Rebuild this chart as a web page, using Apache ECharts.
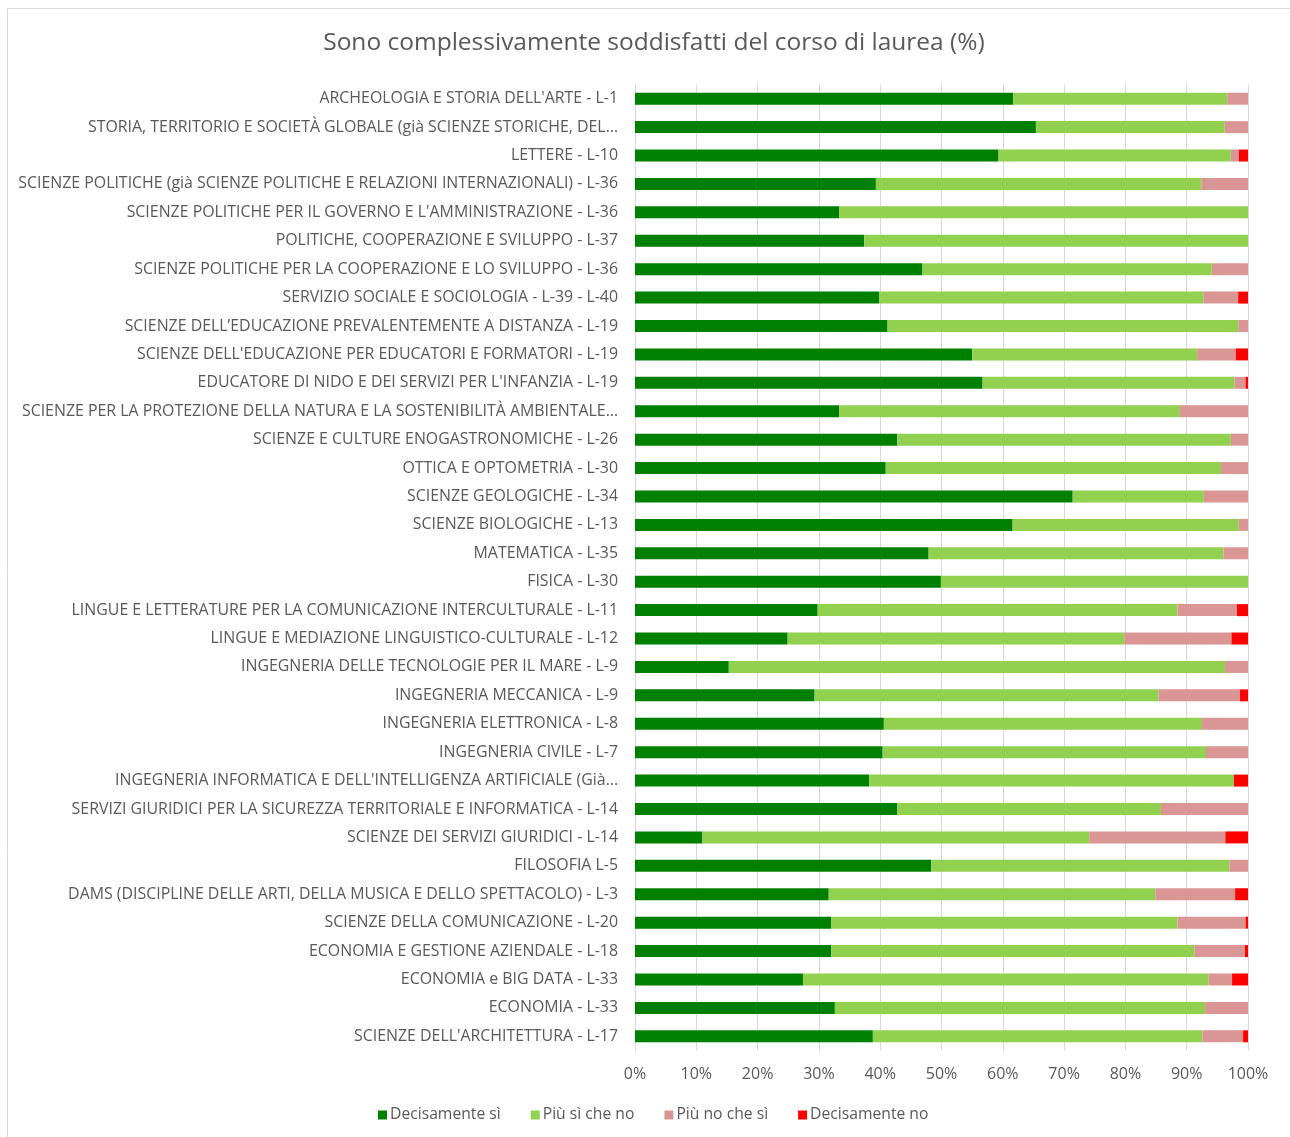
<!DOCTYPE html>
<html><head><meta charset="utf-8">
<script src="https://cdn.jsdelivr.net/npm/echarts@6/dist/echarts.min.js"></script>
<style>html,body{margin:0;padding:0;background:#fff}#c{width:1290px;height:1137px}</style>
</head><body><div id="c"></div>
<script>
const categories = [
"ARCHEOLOGIA E STORIA DELL'ARTE - L-1",
"STORIA, TERRITORIO E SOCIETÀ GLOBALE (già SCIENZE STORICHE, DEL…",
"LETTERE - L-10",
"SCIENZE POLITICHE (già SCIENZE POLITICHE E RELAZIONI INTERNAZIONALI) - L-36",
"SCIENZE POLITICHE PER IL GOVERNO E L'AMMINISTRAZIONE - L-36",
"POLITICHE, COOPERAZIONE E SVILUPPO - L-37",
"SCIENZE POLITICHE PER LA COOPERAZIONE E LO SVILUPPO - L-36",
"SERVIZIO SOCIALE E SOCIOLOGIA - L-39 - L-40",
"SCIENZE DELL’EDUCAZIONE PREVALENTEMENTE A DISTANZA - L-19",
"SCIENZE DELL'EDUCAZIONE PER EDUCATORI E FORMATORI - L-19",
"EDUCATORE DI NIDO E DEI SERVIZI PER L'INFANZIA - L-19",
"SCIENZE PER LA PROTEZIONE DELLA NATURA E LA SOSTENIBILITÀ AMBIENTALE…",
"SCIENZE E CULTURE ENOGASTRONOMICHE - L-26",
"OTTICA E OPTOMETRIA - L-30",
"SCIENZE GEOLOGICHE - L-34",
"SCIENZE BIOLOGICHE - L-13",
"MATEMATICA - L-35",
"FISICA - L-30",
"LINGUE E LETTERATURE PER LA COMUNICAZIONE INTERCULTURALE - L-11",
"LINGUE E MEDIAZIONE LINGUISTICO-CULTURALE - L-12",
"INGEGNERIA DELLE TECNOLOGIE PER IL MARE - L-9",
"INGEGNERIA MECCANICA - L-9",
"INGEGNERIA ELETTRONICA - L-8",
"INGEGNERIA CIVILE - L-7",
"INGEGNERIA INFORMATICA E DELL'INTELLIGENZA ARTIFICIALE (Già…",
"SERVIZI GIURIDICI PER LA SICUREZZA TERRITORIALE E INFORMATICA - L-14",
"SCIENZE DEI SERVIZI GIURIDICI - L-14",
"FILOSOFIA L-5",
"DAMS (DISCIPLINE DELLE ARTI, DELLA MUSICA E DELLO SPETTACOLO) - L-3",
"SCIENZE DELLA COMUNICAZIONE - L-20",
"ECONOMIA E GESTIONE AZIENDALE - L-18",
"ECONOMIA e BIG DATA - L-33",
"ECONOMIA - L-33",
"SCIENZE DELL'ARCHITETTURA - L-17"
];
const decisamenteSi = [61.7,65.4,59.3,39.3,33.3,37.4,46.9,39.8,41.2,55.0,56.7,33.3,42.8,40.9,71.4,61.6,47.9,49.9,29.8,24.9,15.3,29.3,40.6,40.4,38.2,42.8,11.0,48.3,31.6,32.0,32.0,27.4,32.6,38.8];
const piuSiCheNo = [34.9,30.8,37.9,53.1,66.7,62.6,47.2,52.9,57.2,36.7,41.1,55.6,54.4,54.7,21.4,36.9,48.1,50.1,58.7,54.9,80.95,56.1,51.9,52.75,59.5,43.0,63.1,48.65,53.3,56.5,59.25,66.2,60.4,53.75];
const piuNoCheSi = [3.4,3.8,1.3,7.6,0,0,5.9,5.7,1.6,6.3,1.8,11.1,2.8,4.4,7.2,1.5,4.0,0,9.7,17.5,3.75,13.3,7.5,6.85,0,14.2,22.2,3.05,13.0,11.1,8.25,3.8,7.0,6.65];
const decisamenteNo = [0,0,1.5,0,0,0,0,1.6,0,2.0,0.4,0,0,0,0,0,0,0,1.8,2.7,0,1.3,0,0,2.3,0,3.7,0,2.1,0.4,0.5,2.6,0,0.8];
const seriesNames = ["Decisamente sì","Più sì che no","Più no che sì","Decisamente no"];
const seriesColors = ["#008000","#92d050","#da9694","#ff0000"];
const seriesData = [decisamenteSi, piuSiCheNo, piuNoCheSi, decisamenteNo];
const xTicks = [0,10,20,30,40,50,60,70,80,90,100];

const FONT = "'Open Sans', sans-serif";
const chart = echarts.init(document.getElementById('c'));
chart.setOption({
  animation: false,
  backgroundColor: '#fff',
  textStyle: { fontFamily: FONT },
  title: {
    text: 'Sono complessivamente soddisfatti del corso di laurea (%)',
    left: 649, top: 26, textAlign: 'center',
    textStyle: { fontSize: 24.5, fontWeight: 'normal', color: '#595959', fontFamily: FONT }
  },
  graphic: [{
    type: 'rect', shape: { x: 7.5, y: 8.5, width: 1300, height: 1200 },
    style: { fill: 'none', stroke: '#d9d9d9', lineWidth: 1 }, silent: true, z: -1
  }],
  legend: {
    data: seriesNames, bottom: 9, left: 373,
    itemWidth: 9, itemHeight: 9, itemGap: 30, icon: 'rect',
    textStyle: { fontSize: 15.7, color: '#595959', fontFamily: FONT, padding: [0,0,0,-2] }
  },
  grid: { left: 635, right: 42, top: 84.5, bottom: 86.5, containLabel: false },
  xAxis: {
    type: 'value', min: 0, max: 100, interval: 10,
    axisLabel: { formatter: v => xTicks.includes(v) ? v + '%' : '', fontSize: 16, color: '#595959', margin: 16, fontFamily: FONT },
    splitLine: { show: true, lineStyle: { color: '#d9d9d9', width: 1 } },
    axisLine: { show: false }, axisTick: { show: false }
  },
  yAxis: {
    type: 'category', data: categories, inverse: true,
    axisLabel: { fontSize: 15.9, color: '#595959', margin: 17, fontFamily: FONT },
    axisLine: { show: false }, axisTick: { show: false }
  },
  series: seriesData.map((d, i) => ({
    name: seriesNames[i], type: 'bar', stack: 'total', data: d,
    barWidth: 12, itemStyle: { color: seriesColors[i] }
  }))
});
</script></body></html>
